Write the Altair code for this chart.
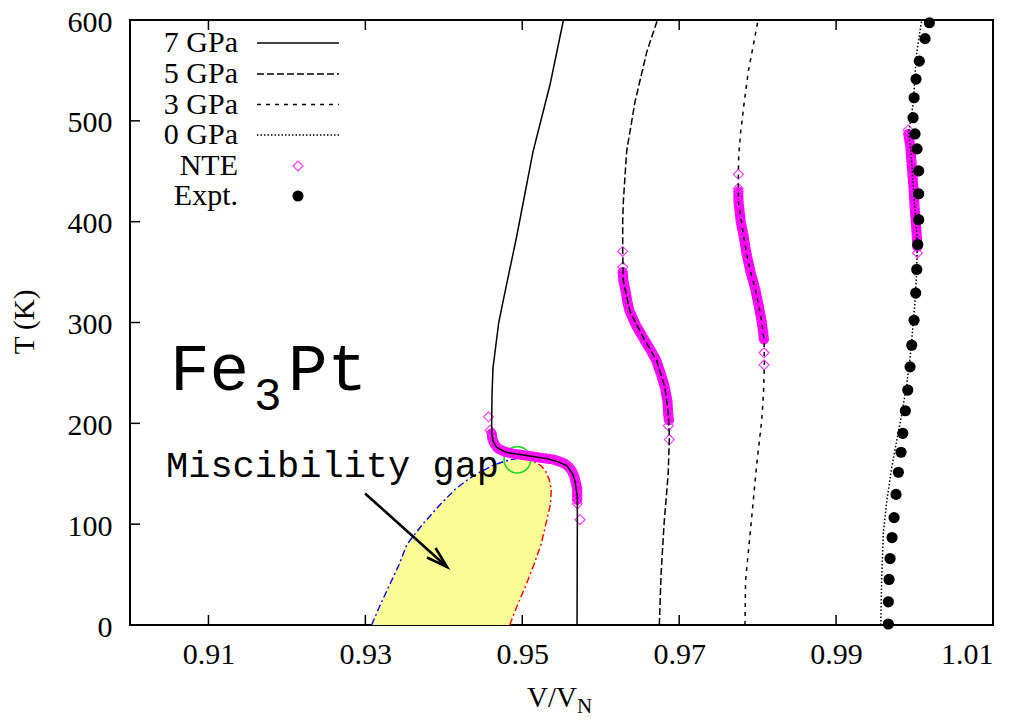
import altair as alt
import pandas as pd

# ---------------- data ----------------
# 7 GPa curve (solid)
t7 = [0, 50, 100, 127, 143, 150, 158, 162, 165, 168, 171, 176, 182, 189.5, 205, 230, 255, 300, 321, 387, 469.5, 536, 600]
v7 = [0.95698, 0.95700, 0.95702, 0.95702, 0.95672, 0.95640, 0.95567, 0.95450, 0.95312, 0.95057, 0.94802,
      0.94674, 0.94630, 0.94611, 0.94610, 0.94615, 0.94627, 0.94700, 0.94755, 0.94933, 0.95137, 0.95354, 0.95525]
# 5 GPa curve (dashed)
t5 = [0, 50, 100, 150, 186, 209, 235, 262, 285, 311, 341, 370, 400, 420, 470, 519, 568, 600]
v5 = [0.96747, 0.96769, 0.96807, 0.96860, 0.96875, 0.96862, 0.96820, 0.96714, 0.96543, 0.96373, 0.96288,
      0.96280, 0.96280, 0.96288, 0.96331, 0.96437, 0.96586, 0.96722]
# 3 GPa curve (short dashes)
t3 = [0, 44, 100, 160, 203, 230, 259, 282, 301, 318, 334, 350, 368, 387, 405, 420, 447, 466, 489, 519, 549, 575, 600]
v3 = [0.97839, 0.97846, 0.97916, 0.97989, 0.98052, 0.98075, 0.98086, 0.98082, 0.98052, 0.98010, 0.97967,
      0.97910, 0.97861, 0.97818, 0.97785, 0.97754, 0.97754, 0.97759, 0.97784, 0.97830, 0.97881, 0.97945, 0.98005]
# 0 GPa curve (dotted)
t0 = [0, 48, 91, 123, 156, 183, 209, 239, 265, 301, 321, 334, 348, 361, 377, 400, 420, 445, 470, 489, 505,
      519, 545, 568, 600]
v0 = [0.99569, 0.99582, 0.99602, 0.99646, 0.99709, 0.99773, 0.99837, 0.99901, 0.99943, 0.99985, 1.00006,
      1.00015, 1.00026, 1.00030, 1.00036, 1.00018, 0.99998, 0.99975, 0.99952, 0.99924, 0.99960, 0.99985,
      1.00005, 1.00028, 1.00092]

# NTE bands (dense diamond runs)
nte7_t = [190, 184, 179, 175, 172, 170, 169, 168, 167, 166, 165, 164, 162, 160, 157, 153, 148, 142, 135, 128, 124]
nte7_v = [0.9461, 0.9462, 0.9465, 0.9469, 0.9477, 0.9488, 0.9497, 0.9506, 0.9514, 0.9522, 0.9531, 0.9540,
          0.9548, 0.9554, 0.9559, 0.9563, 0.9566, 0.9568, 0.9570, 0.9570, 0.9570]
nte5_t = [350, 341, 330, 320, 311, 297, 285, 272, 262, 248, 235, 222, 209, 203]
nte5_v = [0.9628, 0.9629, 0.9632, 0.9634, 0.9637, 0.9645, 0.9654, 0.9664, 0.9671, 0.9677, 0.9682, 0.9685,
          0.9686, 0.9687]
nte3_t = [430, 420, 400, 387, 367, 350, 334, 318, 301, 290, 283]
nte3_v = [0.97754, 0.97756, 0.97785, 0.97818, 0.97861, 0.97910, 0.97967, 0.98010, 0.98052, 0.98070, 0.98080]
nte0_t = [487, 475, 460, 445, 430, 415, 400, 385, 375]
nte0_v = [0.9992, 0.99945, 0.9996, 0.99975, 0.9999, 1.0000, 1.00015, 1.0003, 1.00035]
# isolated NTE diamonds at the ends of each run
nte_iso_v = [0.9457, 0.94589, 0.95702, 0.95736, 0.96280, 0.96280, 0.96862, 0.96875, 0.97754, 0.97754,
             0.98082, 0.98082, 0.9992, 1.00038]
nte_iso_t = [206.5, 193, 120.3, 104.5, 370.5, 355, 197.7, 183.9, 447, 433, 270, 258, 491, 369]

# Experimental points
exp_v = [1.00189, 1.00134, 1.00061, 1.00019, 0.99994, 0.99981, 1.00006, 1.00032, 1.00053, 1.00053, 1.00053,
         1.00041, 1.00028, 1.00015, 0.99994, 0.99964, 0.99943, 0.99914, 0.99883, 0.99850, 0.99828, 0.99794,
         0.99764, 0.99739, 0.99713, 0.99688, 0.99675, 0.99666, 0.99666]
exp_t = [597.3, 581.5, 559.2, 541.4, 522.9, 503.1, 487.0, 472.2, 450.4, 427.7, 402.0, 377.3, 352.6, 329.2,
         302.2, 277.5, 256.0, 233.0, 212.5, 190.1, 171.3, 151.5, 129.5, 106.5, 86.7, 65.9, 45.2, 23.0, 1.0]

# Miscibility gap boundaries
gap_t = [0, 20, 40, 60, 80, 100, 120, 135, 145, 152, 158, 162, 164, 165.5]
gap_left = [0.9308, 0.9319, 0.9331, 0.9343, 0.9353, 0.9373, 0.9396, 0.9415, 0.9432, 0.9447, 0.9462, 0.9476,
            0.9486, 0.9495]
gap_right = [0.9484, 0.9494, 0.9505, 0.9515, 0.9524, 0.9530, 0.9536, 0.9537, 0.9534, 0.9530, 0.9524, 0.9515,
             0.9506, 0.9495]

critical_v = [0.94937]
critical_t = [163.8]

arrow_v = [0.92996, 0.94041]
arrow_t = [130.5, 57.6]

x_ticks = [0.91, 0.93, 0.95, 0.97, 0.99, 1.01]
y_ticks = [0, 100, 200, 300, 400, 500, 600]

legend_labels = ["7 GPa", "5 GPa", "3 GPa", "0 GPa", "NTE", "Expt."]

# ---------------- chart ----------------
W, H = 863, 605
TOP = 12
SERIF = "Liberation Serif"
MONO = "Liberation Mono"
FS = 30

xs = alt.Scale(domain=[0.90, 1.01], nice=False, zero=False)
ys = alt.Scale(domain=[0, 600], nice=False, zero=False)
xaxis = alt.Axis(values=x_ticks, format=".2f", title=None, grid=False, domain=False, ticks=False,
                 labelFont=SERIF, labelFontSize=FS, labelColor="black", labelPadding=14)
yaxis = alt.Axis(values=y_ticks, format="d", title=None, grid=False, domain=False, ticks=False,
                 labelFont=SERIF, labelFontSize=FS, labelColor="black", labelPadding=18, labelOffset=2)


def X(f):
    return alt.X(f, type="quantitative", scale=xs, axis=xaxis)


def Y(f):
    return alt.Y(f, type="quantitative", scale=ys, axis=yaxis)


def curve(v, t):
    return pd.DataFrame({"V": v, "T": t, "i": range(len(v))})


one = pd.DataFrame({"a": [0]})
layers = []

# miscibility gap fill
gap = pd.DataFrame({"T": gap_t, "L": gap_left, "R": gap_right})
layers.append(alt.Chart(gap).mark_area(orient="horizontal", color="#fcfc96").encode(
    y=Y("T"), x=X("L"), x2="R"))
layers.append(alt.Chart(gap).mark_line(color="#0000ff", strokeWidth=1.4, strokeDash=[7, 3, 2, 3]).encode(
    x=X("L"), y=Y("T"), order="T:Q"))
layers.append(alt.Chart(gap).mark_line(color="#ff0000", strokeWidth=1.4, strokeDash=[7, 3, 2, 3]).encode(
    x=X("R"), y=Y("T"), order="T:Q"))
layers.append(alt.Chart(curve(critical_v, critical_t)).mark_point(
    shape="circle", filled=False, color="#22dd22", size=700, strokeWidth=1.6, opacity=1).encode(
    x=X("V"), y=Y("T")))

# NTE bands
for v, t in [(nte7_v, nte7_t), (nte5_v, nte5_t), (nte3_v, nte3_t), (nte0_v, nte0_t)]:
    d = curve(v, t)
    layers.append(alt.Chart(d).mark_line(color="#ff00ff", strokeWidth=10, strokeCap="round",
                                         strokeJoin="round").encode(x=X("V"), y=Y("T"), order="i:Q"))
    layers.append(alt.Chart(d).mark_point(shape="diamond", filled=False, color="#ff33ff", size=100,
                                          strokeWidth=1, opacity=1).encode(x=X("V"), y=Y("T")))
layers.append(alt.Chart(curve(nte_iso_v, nte_iso_t)).mark_point(
    shape="diamond", filled=False, color="#ff33ff", size=100, strokeWidth=1.1, opacity=1).encode(
    x=X("V"), y=Y("T")))

# pressure curves
styles = [(v7, t7, None), (v5, t5, [7, 3]), (v3, t3, [4, 5]), (v0, t0, [1.5, 2])]
for v, t, dash in styles:
    kw = dict(color="black", strokeWidth=1.5)
    if dash:
        kw["strokeDash"] = dash
    layers.append(alt.Chart(curve(v, t)).mark_line(**kw).encode(x=X("V"), y=Y("T"), order="T:Q"))

# experimental points
layers.append(alt.Chart(curve(exp_v, exp_t)).mark_circle(color="black", size=125, opacity=1).encode(
    x=X("V"), y=Y("T")))

# arrow
arr = curve(arrow_v, arrow_t)
layers.append(alt.Chart(arr).mark_line(color="black", strokeWidth=2.6).encode(
    x=X("V"), y=Y("T"), order="i:Q"))
layers.append(alt.Chart(arr.iloc[[1]]).mark_point(
    shape="M -1 -0.3 L 0 0 L -1 0.3", filled=False, color="black", strokeWidth=2.6, size=1800,
    angle=42, opacity=1).encode(x=X("V"), y=Y("T")))

# inward ticks (bottom, top, left)
xt = pd.DataFrame({"V": x_ticks})
yt = pd.DataFrame({"T": y_ticks})
layers.append(alt.Chart(xt).mark_rule(color="black", strokeWidth=1.5).encode(
    x=X("V"), y=alt.value(H), y2=alt.value(H - 10)))
layers.append(alt.Chart(xt).mark_rule(color="black", strokeWidth=1.5).encode(
    x=X("V"), y=alt.value(0), y2=alt.value(10)))
layers.append(alt.Chart(yt).mark_rule(color="black", strokeWidth=1.5).encode(
    y=Y("T"), x=alt.value(0), x2=alt.value(10)))


def txt(s, x, y, font=SERIF, size=FS, align="left", baseline="alphabetic", angle=0):
    return alt.Chart(one).mark_text(text=s, font=font, fontSize=size, align=align, baseline=baseline,
                                    angle=angle, color="black").encode(x=alt.value(x), y=alt.value(y))


# positions below are page-pixel offsets relative to the plot's top edge (page y = 8 + TOP)
def py(page_y):
    return page_y - 8 - TOP


# annotations
layers.append(txt("Fe", 40, py(390), font=MONO, size=66))
layers.append(txt("3", 124, py(410), font=MONO, size=46))
layers.append(txt("Pt", 158, py(390), font=MONO, size=66))
layers.append(txt("Miscibility gap", 36, py(477), font=MONO, size=37))

# axis titles
layers.append(txt("V/V", 397, py(707), size=29))
layers.append(txt("N", 447, py(713), size=21))
layers.append(txt("T (K)", -105, py(322), align="center", baseline="middle", angle=270, size=29))

# legend
rows = [py(43), py(74), py(104.5), py(135), py(166), py(196)]
dashes = [None, [7, 3], [4, 5], [1.5, 2]]
for i, lab in enumerate(legend_labels):
    layers.append(txt(lab, 108, rows[i], align="right", baseline="middle"))
for i in range(4):
    kw = dict(color="black", strokeWidth=1.5)
    if dashes[i]:
        kw["strokeDash"] = dashes[i]
    layers.append(alt.Chart(one).mark_rule(**kw).encode(
        x=alt.value(127), x2=alt.value(209), y=alt.value(rows[i])))
layers.append(alt.Chart(one).mark_point(shape="diamond", filled=False, color="#ff33ff", size=100,
                                        strokeWidth=1.1, opacity=1).encode(
    x=alt.value(168), y=alt.value(rows[4])))
layers.append(alt.Chart(one).mark_circle(color="black", size=125, opacity=1).encode(
    x=alt.value(168), y=alt.value(rows[5])))

chart = alt.layer(*layers).properties(
    width=W, height=H,
    autosize=alt.AutoSizeParams(type="none"),
    padding={"left": 122, "top": TOP, "right": 20, "bottom": 96},
    background="white",
).configure_view(stroke="black", strokeWidth=2)

chart.save("out.html", embed_options={"renderer": "svg", "actions": False})
